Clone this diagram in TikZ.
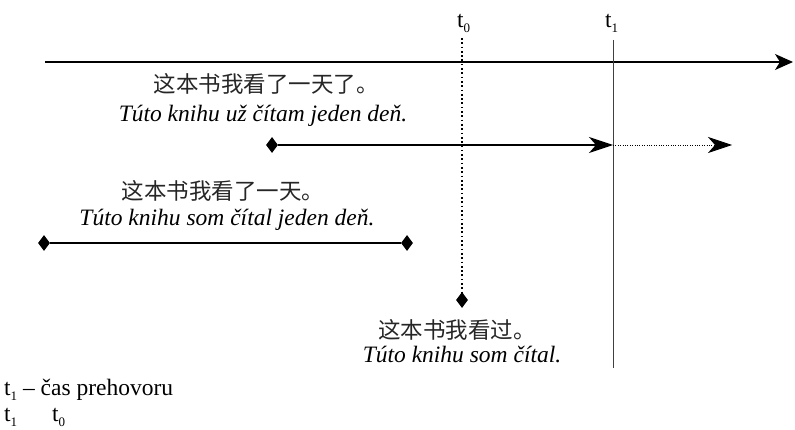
\documentclass[tikz,border=0pt]{standalone}
\usepackage{fontspec}
\setmainfont{Liberation Serif}
\newfontfamily\cjk{Noto Sans CJK SC}
\usetikzlibrary{arrows.meta,shapes.geometric}
\newcommand\tsub[1]{t\raisebox{-5pt}{\fontsize{13}{13}\selectfont #1}}
\begin{document}
\begin{tikzpicture}[x=1pt,y=-1pt,
  dia/.style={diamond,fill=black,draw=none,inner sep=0pt,minimum width=12pt,minimum height=16pt},
  zh/.style={font=\fontsize{22.5}{25}\selectfont\cjk,inner sep=0pt,text=black!85},
  sk/.style={font=\fontsize{23.5}{28}\selectfont\itshape,inner sep=0pt,anchor=base},
  lbl/.style={font=\fontsize{23.5}{28}\selectfont,inner sep=0pt,anchor=base west},
  axis/.style={line width=1.2pt,-{Stealth[length=18pt,width=16pt,inset=5pt]}},
  span/.style={line width=1.2pt},
  tipped/.style={line width=1.2pt,-{Stealth[length=24pt,width=16pt,inset=7pt]}},
  future/.style={line width=0.8pt,dash pattern=on 0.8pt off 1.6pt,-{Stealth[length=24pt,width=16pt,inset=7pt]}},
  dots/.style={line width=1.7pt,dash pattern=on 1.7pt off 2.6pt},
  nowline/.style={line width=1pt,draw=black!75}
]
\useasboundingbox (0,0) rectangle (795,430);

% time axis
\coordinate (ax0) at (45,62);
\coordinate (ax1) at (793,62);
\draw[axis] (ax0) -- (ax1);

% t0 and t1 marks
\node[lbl] (lt0) at (457,28) {\tsub{0}};
\node[lbl] (lt1) at (605,28) {\tsub{1}};
\coordinate (t0top) at (462,38);
\coordinate (t1top) at (613,40);
\coordinate (t1bot) at (613,368);
\draw[nowline] (t1top) -- (t1bot);

% sentence 1
\node[zh] (zh1) at (266,84) {这本书我看了一天了。};
\node[sk] (sk1) at (263,122) {Túto knihu už čítam jeden deň.};
\node[dia] (d1) at (272,145) {};
\coordinate (t1m) at (613,145);
\coordinate (fut) at (732,145);
\draw[tipped] (d1) -- (t1m);
\draw[future] (t1m) -- (fut);

% sentence 2
\node[zh] (zh2) at (223,191) {这本书我看了一天。};
\node[sk] (sk2) at (227,226) {Túto knihu som čítal jeden deň.};
\node[dia] (d2a) at (44,243) {};
\node[dia] (d2b) at (407,243) {};
\draw[span] (d2a) -- (d2b);

% sentence 3
\node[dia] (d3) at (462,300) {};
\draw[dots] (t0top) -- (d3.north);
\node[zh] (zh3) at (457,330) {这本书我看过。};
\node[sk] (sk3) at (462,362) {Túto knihu som čítal.};

% legend
\node[lbl] (leg1) at (4,395) {\tsub{1} – čas prehovoru};
\node[lbl] (leg2) at (4,421) {\tsub{1}};
\node[lbl] (leg3) at (52,421) {\tsub{0}};
\end{tikzpicture}
\end{document}
